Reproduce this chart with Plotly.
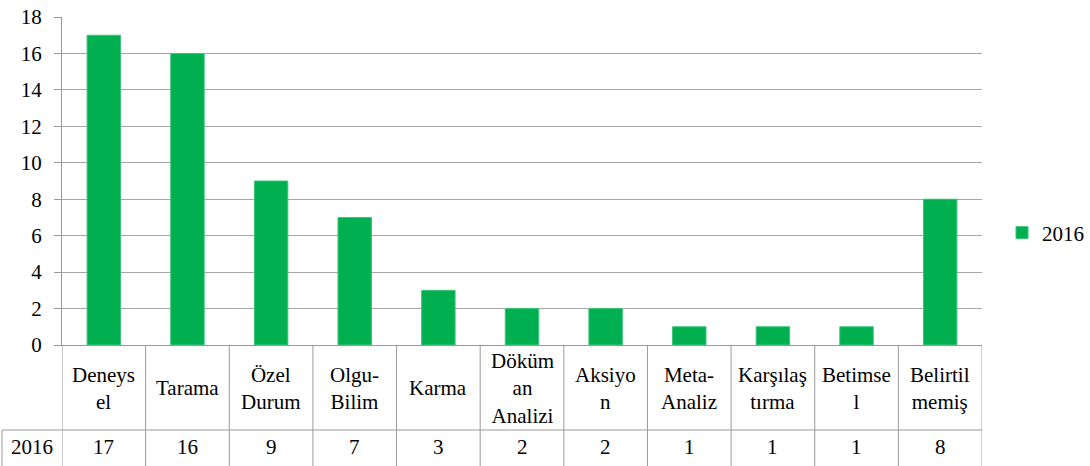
import plotly.graph_objects as go

categories = ["Deneysel", "Tarama", "Özel Durum", "Olgu-Bilim", "Karma", "Döküman Analizi",
              "Aksiyon", "Meta-Analiz", "Karşılaştırma", "Betimsel", "Belirtilmemiş"]
table_labels = ["Deneys<br>el", "Tarama", "Özel<br>Durum", "Olgu-<br>Bilim", "Karma",
                "Döküm<br>an<br>Analizi", "Aksiyo<br>n", "Meta-<br>Analiz", "Karşılaş<br>tırma",
                "Betimse<br>l", "Belirtil<br>memiş"]
values_2016 = [17, 16, 9, 7, 3, 2, 2, 1, 1, 1, 8]
series_name = "2016"
y_ticks = [0, 2, 4, 6, 8, 10, 12, 14, 16, 18]

W, H = 1090, 466
L, R, T, B = 62, 108, 17, 121
plot_h = H - T - B
plot_w = W - L - R

def py(pix_y):
    return (H - B - pix_y) / plot_h

def px(pix_x):
    return (pix_x - L) / plot_w

FONT = "Liberation Serif"
FS = 21
GRID = "#a6a6a6"
LINE = "#9a9a9a"

fig = go.Figure()
fig.add_trace(go.Bar(x=categories, y=values_2016, name=series_name,
                     marker=dict(color="#00B050", line=dict(color="#3cc47a", width=1)),
                     showlegend=True))

shapes = []
n = len(categories)
for i in range(n + 1):
    shapes.append(dict(type="line", xref="x", yref="paper", x0=i - 0.5, x1=i - 0.5,
                       y0=0, y1=py(466), line=dict(color=LINE, width=1)))
shapes.append(dict(type="line", xref="paper", yref="paper", x0=px(2), x1=1,
                   y0=py(430), y1=py(430), line=dict(color=LINE, width=1)))
shapes.append(dict(type="line", xref="paper", yref="paper", x0=px(2), x1=px(2),
                   y0=py(430), y1=py(466), line=dict(color=LINE, width=1)))

tfont = dict(family=FONT, size=FS, color="black")
annotations = []
for i, (lab, v) in enumerate(zip(table_labels, values_2016)):
    annotations.append(dict(x=categories[i], xref="x", y=py(388), yref="paper",
                            text=lab, showarrow=False, yanchor="middle", xanchor="center",
                            font=tfont))
    annotations.append(dict(x=categories[i], xref="x", y=py(447), yref="paper",
                            text=str(v), showarrow=False, yanchor="middle", xanchor="center",
                            font=tfont))
annotations.append(dict(x=px(32), xref="paper", y=py(447), yref="paper", text=series_name,
                        showarrow=False, yanchor="middle", xanchor="center", font=tfont))

fig.update_layout(
    width=W, height=H,
    margin=dict(l=L, r=R, t=T, b=B, autoexpand=False),
    paper_bgcolor="white", plot_bgcolor="white",
    bargap=0.6,
    font=tfont,
    xaxis=dict(type="category", range=[-0.5, n - 0.5], showticklabels=False, showgrid=False,
               showline=True, linecolor=LINE, linewidth=1, ticks="", zeroline=False),
    yaxis=dict(range=[0, 18], tickvals=y_ticks, showgrid=True, gridcolor=GRID, gridwidth=1,
               showline=True, linecolor=LINE, linewidth=1, ticks="outside", ticklen=7,
               tickcolor=LINE, zeroline=False, ticklabelstandoff=8, tickfont=tfont),
    legend=dict(x=px(1002), xanchor="left", y=py(233), yanchor="middle",
                font=tfont, itemwidth=30, bgcolor="rgba(0,0,0,0)"),
    shapes=shapes, annotations=annotations,
)

fig.write_html("out.html", config={"displayModeBar": False},
               post_script="document.body.style.margin='0';document.body.style.overflow='hidden';")
